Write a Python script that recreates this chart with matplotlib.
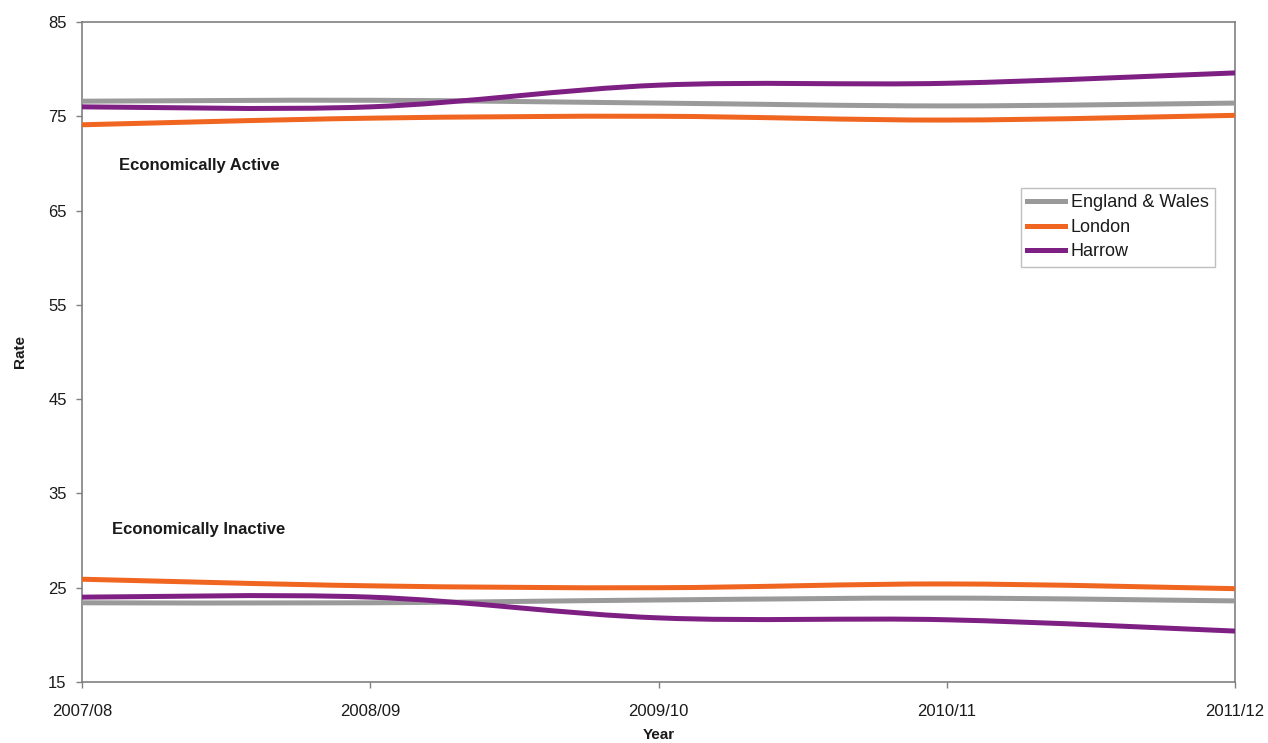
import matplotlib
matplotlib.use("Agg")
import matplotlib.pyplot as plt
from matplotlib.path import Path
from matplotlib.patches import PathPatch
from matplotlib.lines import Line2D
import numpy as np

plt.rcParams['font.family'] = ['Liberation Sans', 'DejaVu Sans']

years = ["2007/08", "2008/09", "2009/10", "2010/11", "2011/12"]
series_names = ["England & Wales", "London", "Harrow"]
series_colors = ["#9A9A9A", "#F0651F", "#7E1F83"]

# Economically active rate (%)
active_ew = [76.6, 76.7, 76.4, 76.1, 76.4]
active_london = [74.1, 74.8, 75.0, 74.6, 75.1]
active_harrow = [76.0, 76.0, 78.3, 78.5, 79.6]

# Economically inactive rate (%)
inactive_ew = [23.4, 23.4, 23.7, 23.9, 23.6]
inactive_london = [25.9, 25.2, 25.0, 25.4, 24.9]
inactive_harrow = [24.0, 24.0, 21.8, 21.6, 20.4]

y_ticks = [15, 25, 35, 45, 55, 65, 75, 85]


def smooth_path(xs, ys):
    """Cubic Bezier path through the points, Catmull-Rom style control points."""
    pts = np.column_stack([xs, ys]).astype(float)
    n = len(pts)
    verts = [pts[0]]
    codes = [Path.MOVETO]
    for i in range(n - 1):
        p_prev = pts[i - 1] if i > 0 else pts[i]
        p0 = pts[i]
        p1 = pts[i + 1]
        p_next = pts[i + 2] if i + 2 < n else pts[i + 1]
        c1 = p0 + (p1 - p_prev) / 6.0
        c2 = p1 - (p_next - p0) / 6.0
        verts += [c1, c2, p1]
        codes += [Path.CURVE4] * 3
    return Path(verts, codes)


fig = plt.figure(figsize=(12.68, 7.43), dpi=100)
ax = fig.add_axes([82 / 1268, 1 - 682 / 743, (1235 - 82) / 1268, (682 - 22) / 743])

x = np.arange(len(years))
groups = [
    [active_ew, active_london, active_harrow],
    [inactive_ew, inactive_london, inactive_harrow],
]
for group in groups:
    for vals, col in zip(group, series_colors):
        patch = PathPatch(smooth_path(x, vals), facecolor="none", edgecolor=col,
                          lw=3.6, capstyle="butt", joinstyle="round", zorder=3)
        ax.add_patch(patch)

ax.set_xlim(0, len(years) - 1)
ax.set_ylim(15, 85)
ax.set_xticks(x)
ax.set_xticklabels(years, fontsize=12, color="#1a1a1a")
ax.set_yticks(y_ticks)
ax.set_yticklabels([str(t) for t in y_ticks], fontsize=12, color="#1a1a1a")
ax.tick_params(axis="both", direction="out", length=4, width=1, color="#808080")
ax.tick_params(axis="x", pad=12)
ax.tick_params(axis="y", pad=7)

for sp in ax.spines.values():
    sp.set_color("#808080")
    sp.set_linewidth(1.2)

ax.set_ylabel("Rate", fontsize=11, fontweight="bold", color="#1a1a1a", labelpad=15)
ax.set_xlabel("Year", fontsize=11, fontweight="bold", color="#1a1a1a", labelpad=6)

ax.text(0.13, 69.8, "Economically Active", fontsize=12, fontweight="bold",
        color="#1a1a1a", va="center", ha="left")
ax.text(0.105, 31.2, "Economically Inactive", fontsize=12, fontweight="bold",
        color="#1a1a1a", va="center", ha="left")

handles = [Line2D([], [], color=c, lw=3.6) for c in series_colors]
leg = fig.legend(handles, series_names, loc="upper right",
                 bbox_to_anchor=(1215 / 1268, 1 - 188 / 743),
                 fontsize=13, frameon=True, fancybox=False, shadow=False,
                 handlelength=2.1, handletextpad=0.3, labelspacing=0.42,
                 borderpad=0.35, borderaxespad=0.0)
leg.get_frame().set_edgecolor("#B0B0B0")
leg.get_frame().set_linewidth(1.0)
for t in leg.get_texts():
    t.set_color("#1a1a1a")

fig.savefig("out.png", dpi=100, facecolor="white")
